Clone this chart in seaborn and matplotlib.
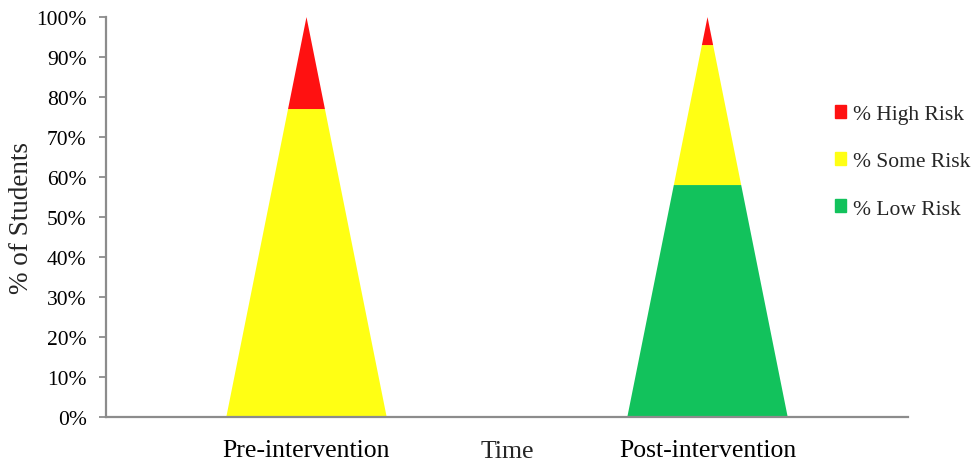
import matplotlib
matplotlib.use('Agg')
import matplotlib.pyplot as plt
from matplotlib.patches import Patch
import seaborn as sns


phases     = ['Pre-intervention', 'Post-intervention']
low_risk   = [0, 58]
some_risk  = [77, 35]
high_risk  = [23, 7]
risk_names = ['% Low Risk', '% Some Risk', '% High Risk']
risk_cols  = ['#12c25c', '#ffff14', '#ff1111']


sns.set_theme(style='white')
plt.rcParams['font.family'] = ['Liberation Serif', 'DejaVu Serif']

fig = plt.figure(figsize=(9.75, 4.64), dpi=100)
ax = fig.add_axes([0.1087, 0.0991, 0.8226, 0.862])

half_w = 0.2   # half base width of each pyramid, in category units

for i, name in enumerate(phases):
    bottom = 0
    for vals, col in zip([low_risk, some_risk, high_risk], risk_cols):
        top = bottom + vals[i]
        if vals[i] > 0:
            w0 = half_w * (1 - bottom / 100)
            w1 = half_w * (1 - top / 100)
            ax.fill([i - w0, i + w0, i + w1, i - w1],
                    [bottom, bottom, top, top], color=col, lw=0)
        bottom = top

ax.set_xlim(-0.5, 1.5)
ax.set_ylim(0, 100)
ax.set_xticks(range(len(phases)))
ax.set_xticklabels(phases)
ax.set_yticks(range(0, 101, 10))
ax.set_yticklabels([f'{v}%' for v in range(0, 101, 10)])

sns.despine(ax=ax)
for side in ['left', 'bottom']:
    ax.spines[side].set_color('#8c8c8c')
    ax.spines[side].set_linewidth(1.6)

ax.tick_params(axis='x', length=0, pad=16, labelsize=18.5, colors='black')
ax.tick_params(axis='y', left=True, length=5, width=1.3, color='#8c8c8c',
               direction='out', pad=9, labelsize=15.5, labelcolor='black')

ax.set_xlabel('Time', fontsize=18.5, va='baseline')
ax.xaxis.set_label_coords(0.5, -0.1)
ax.set_ylabel('% of Students', fontsize=19.5)
ax.yaxis.set_label_coords(-0.09, 0.5)

handles = [Patch(color=c) for c in risk_cols][::-1]
fig.legend(handles, risk_names[::-1], loc='center left',
           bbox_to_anchor=(0.856, 0.649), frameon=False, fontsize=15.5,
           handlelength=0.55, handleheight=0.55, handletextpad=0.3,
           labelspacing=1.3, borderpad=0, borderaxespad=0)

plt.savefig('out.png', dpi=100)
